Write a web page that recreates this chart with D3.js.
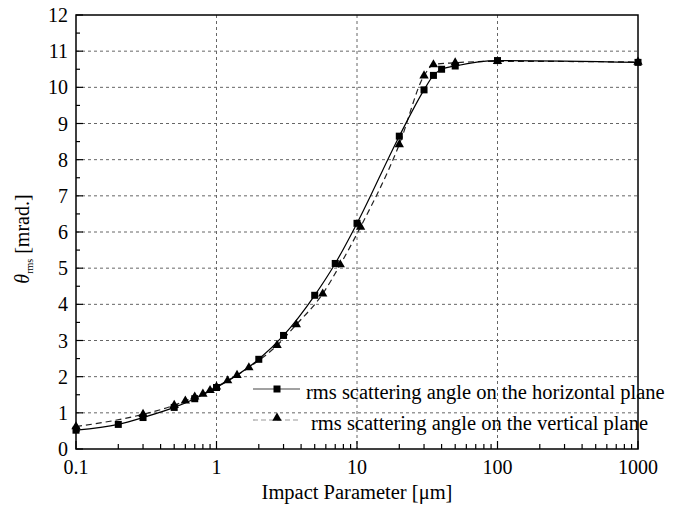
<!DOCTYPE html>
<html>
<head>
<meta charset="utf-8">
<script src="https://cdn.jsdelivr.net/npm/d3@7"></script>
<style>
  body { margin: 0; background: #fff; }
  svg text { font-family: "Liberation Serif", "Times New Roman", Times, serif; fill: #000; }
</style>
</head>
<body>
<svg id="chart" width="680" height="512"></svg>
<script>
// horizontal plane (squares, solid line)
var hX = [0.1, 0.2, 0.3, 0.5, 0.7, 1, 2, 3, 5, 7, 10, 20, 30, 35, 40, 50, 100, 1000];
var hY = [0.52, 0.68, 0.87, 1.15, 1.39, 1.7, 2.48, 3.14, 4.25, 5.13, 6.24, 8.65, 9.93, 10.33, 10.5, 10.59, 10.74, 10.69];
// vertical plane (triangles, dashed line)
var vX = [0.1, 0.3, 0.5, 0.6, 0.7, 0.8, 0.9, 1, 1.2, 1.4, 1.7, 2.7, 3.7, 5.7, 7.6, 10.6, 20, 30, 35, 50, 100, 1000];
var vY = [0.62, 0.96, 1.21, 1.33, 1.44, 1.52, 1.62, 1.72, 1.89, 2.04, 2.25, 2.87, 3.44, 4.29, 5.1, 6.14, 8.42, 10.32, 10.63, 10.68, 10.72, 10.7];

var xTicks = [0.1, 1, 10, 100, 1000];
var xTickLabels = ["0.1", "1", "10", "100", "1000"];
var yTicks = d3.range(0, 13);
var legendLabels = ["rms scattering angle on the horizontal plane", "rms scattering angle on the vertical plane"];

var svg = d3.select("#chart"),
    margin = {top: 15, right: 42, bottom: 63, left: 76},
    width = 680 - margin.left - margin.right,
    height = 512 - margin.top - margin.bottom;

var x = d3.scaleLog().domain([0.1, 1000]).range([0, width]),
    y = d3.scaleLinear().domain([0, 12]).range([height, 0]);

var g = svg.append("g")
    .attr("transform", "translate(" + margin.left + "," + margin.top + ")");

// grid
g.append("g")
    .selectAll("line")
    .data(d3.range(1, 12))
    .join("line")
    .attr("x1", 0).attr("x2", width)
    .attr("y1", d => y(d)).attr("y2", d => y(d))
    .attr("stroke", "#666").attr("stroke-width", 1).attr("stroke-dasharray", "3,3");

g.append("g")
    .selectAll("line")
    .data([1, 10, 100])
    .join("line")
    .attr("x1", d => x(d)).attr("x2", d => x(d))
    .attr("y1", 0).attr("y2", height)
    .attr("stroke", "#666").attr("stroke-width", 1).attr("stroke-dasharray", "3,3");

// inner ticks
var minorX = [];
[0.1, 1, 10, 100].forEach(function (p) {
    for (var k = 2; k <= 9; k++) minorX.push(p * k);
});

g.append("g")
    .selectAll("line")
    .data(minorX)
    .join("line")
    .attr("x1", d => x(d)).attr("x2", d => x(d))
    .attr("y1", height).attr("y2", height - 5)
    .attr("stroke", "#000").attr("stroke-width", 1.2);

g.append("g")
    .selectAll("line")
    .data(xTicks)
    .join("line")
    .attr("x1", d => x(d)).attr("x2", d => x(d))
    .attr("y1", height).attr("y2", height - 8)
    .attr("stroke", "#000").attr("stroke-width", 1.2);

g.append("g")
    .selectAll("line")
    .data(d3.range(0, 12.01, 0.5))
    .join("line")
    .attr("x1", 0).attr("x2", d => (d % 1 === 0) ? 7 : 4)
    .attr("y1", d => y(d)).attr("y2", d => y(d))
    .attr("stroke", "#000").attr("stroke-width", 1.2);

// tick labels
g.append("g")
    .selectAll("text")
    .data(xTicks)
    .join("text")
    .attr("x", d => x(d))
    .attr("y", height + 25)
    .attr("text-anchor", "middle")
    .style("font-size", "20px")
    .text((d, i) => xTickLabels[i]);

g.append("g")
    .selectAll("text")
    .data(yTicks)
    .join("text")
    .attr("x", -8)
    .attr("y", d => y(d) + 7)
    .attr("text-anchor", "end")
    .style("font-size", "20px")
    .text(d => d);

// axis titles
svg.append("text")
    .attr("x", margin.left + x(10))
    .attr("y", 499)
    .attr("text-anchor", "middle")
    .style("font-size", "20.5px")
    .text("Impact Parameter [\u03bcm]");

var yt = svg.append("text")
    .attr("transform", "translate(29," + 239 + ") rotate(-90)")
    .attr("text-anchor", "middle")
    .style("font-size", "20px");
yt.append("tspan").style("font-style", "italic").text("\u03b8");
yt.append("tspan").attr("dy", 4).style("font-size", "10px").text("rms");
yt.append("tspan").attr("dy", -4).text(" [mrad.]");

// lines
var hData = hX.map((d, i) => [d, hY[i]]),
    vData = vX.map((d, i) => [d, vY[i]]);

var line = d3.line()
    .x(d => x(d[0]))
    .y(d => y(d[1]))
    .curve(d3.curveMonotoneX);

g.append("path")
    .datum(vData)
    .attr("fill", "none")
    .attr("stroke", "#222")
    .attr("stroke-width", 1.2)
    .attr("stroke-dasharray", "6,4")
    .attr("d", line);

g.append("path")
    .datum(hData)
    .attr("fill", "none")
    .attr("stroke", "#000")
    .attr("stroke-width", 1.2)
    .attr("d", line);

var tri = d3.symbol().type(d3.symbolTriangle).size(38);

g.append("g")
    .selectAll("path")
    .data(vData)
    .join("path")
    .attr("transform", d => "translate(" + x(d[0]) + "," + y(d[1]) + ")")
    .attr("d", tri)
    .attr("fill", "#000");

g.append("g")
    .selectAll("rect")
    .data(hData)
    .join("rect")
    .attr("x", d => x(d[0]) - 3.5)
    .attr("y", d => y(d[1]) - 3.5)
    .attr("width", 7).attr("height", 7)
    .attr("fill", "#000");

// frame
g.append("rect")
    .attr("x", 0).attr("y", 0)
    .attr("width", width).attr("height", height)
    .attr("fill", "none")
    .attr("stroke", "#000")
    .attr("stroke-width", 1.5);

// legend
var lg = svg.append("g");
lg.append("line").attr("x1", 253).attr("x2", 300).attr("y1", 389).attr("y2", 389)
    .attr("stroke", "#444").attr("stroke-width", 1.2);
lg.append("rect").attr("x", 273.5).attr("y", 385.5).attr("width", 7).attr("height", 7).attr("fill", "#000");
lg.append("text").attr("x", 306).attr("y", 399).style("font-size", "20.5px").text(legendLabels[0]);

lg.append("line").attr("x1", 253).attr("x2", 300).attr("y1", 420).attr("y2", 420)
    .attr("stroke", "#999").attr("stroke-width", 1.2).attr("stroke-dasharray", "5,3");
lg.append("path").attr("transform", "translate(277,418)").attr("d", tri).attr("fill", "#000");
lg.append("text").attr("x", 311).attr("y", 430).style("font-size", "20.5px").text(legendLabels[1]);
</script>
</body>
</html>
